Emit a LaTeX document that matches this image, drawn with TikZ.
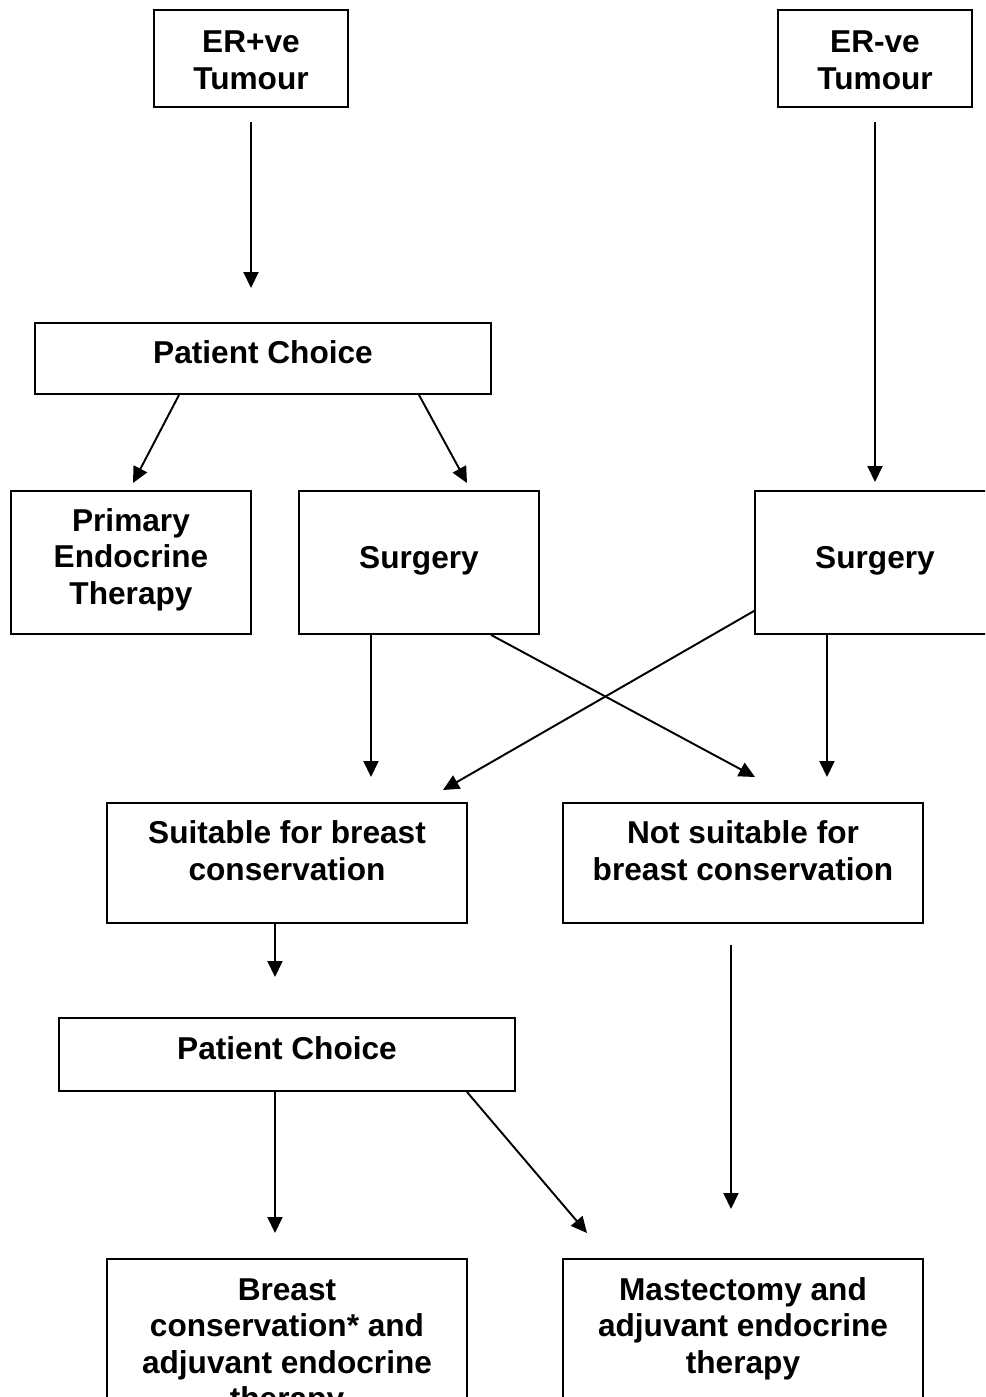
\documentclass[tikz,border=0pt]{standalone}
\usepackage{fontspec}
\setmainfont{Liberation Sans}
\usetikzlibrary{arrows.meta}

\begin{document}
\begin{tikzpicture}[x=0.02cm, y=-0.02cm, >={Triangle[length=0.32cm,width=0.3cm]},
  box/.style={draw, line width=1.1pt, inner sep=0pt, anchor=north, align=center,
    font=\fontsize{18}{20.8}\selectfont\bfseries},
  link/.style={->, line width=1.1pt}]
\useasboundingbox (0,0) rectangle (985,1397);
\clip (0,0) rectangle (985,1397);
\node[box, minimum width=3.88cm, text height=1.59cm, text depth=0.35cm] (erpos) at (251,9) {ER+ve\\Tumour};
\node[box, minimum width=3.88cm, text height=1.59cm, text depth=0.35cm] (erneg) at (875,9) {ER-ve\\Tumour};
\node[box, minimum width=9.12cm, text height=0.82cm, text depth=0.60cm] (choiceA) at (263,322) {Patient Choice};
\node[box, minimum width=4.8cm, text height=2.27cm, text depth=0.59cm] (primary) at (131,490) {Primary\\Endocrine\\Therapy};
\node[box, minimum width=4.8cm, text height=1.56cm, text depth=1.30cm] (surgA) at (419,490) {Surgery};
\node[box, minimum width=4.8cm, text height=1.56cm, text depth=1.30cm] (surgB) at (875,490) {Surgery};
\node[box, minimum width=7.2cm, text height=1.55cm, text depth=0.85cm] (suitable) at (287,802) {Suitable for breast\\conservation};
\node[box, minimum width=7.2cm, text height=1.55cm, text depth=0.85cm] (notsuit) at (743,802) {Not suitable for\\breast conservation};
\node[box, minimum width=9.12cm, text height=0.84cm, text depth=0.62cm] (choiceB) at (287,1017) {Patient Choice};
\node[box, minimum width=7.2cm, text height=3.02cm, text depth=0.18cm] (conserve) at (287,1258) {Breast\\conservation* and\\adjuvant endocrine\\therapy};
\node[box, minimum width=7.2cm, text height=2.29cm, text depth=0.91cm] (mastect) at (743,1258) {Mastectomy and\\adjuvant endocrine\\therapy};
% free ends of the connectors
\coordinate (erposOut) at (251,122);
\coordinate (erposTip) at (251,288);
\coordinate (ernegOut) at (875,122);
\coordinate (ernegTip) at (875,482);
\coordinate (primaryTip) at (133,483);
\coordinate (surgATip) at (467,483);
\coordinate (suitTipA) at (371,777);
\coordinate (suitTipB) at (443,790);
\coordinate (notTipA) at (755,777);
\coordinate (notTipB) at (827,777);
\coordinate (choiceBTip) at (275,977);
\coordinate (conserveTip) at (275,1233);
\coordinate (mastTipA) at (587,1233);
\coordinate (notOut) at (731,945);
\coordinate (mastTipB) at (731,1209);
\draw[link] (erposOut) -- (erposTip);
\draw[link] (ernegOut) -- (ernegTip);
\draw[link] ([xshift=-1.68cm]choiceA.south) -- (primaryTip);
\draw[link] ([xshift=3.12cm]choiceA.south) -- (surgATip);
\draw[link] ([xshift=-0.96cm]surgA.south) -- (suitTipA);
\draw[link] ([xshift=1.44cm]surgA.south) -- (notTipA);
\draw[link] ([yshift=-0.97cm]surgB.west) -- (suitTipB);
\draw[link] ([xshift=-0.96cm]surgB.south) -- (notTipB);
\draw[link] ([xshift=-0.24cm]suitable.south) -- (choiceBTip);
\draw[link] ([xshift=-0.24cm]choiceB.south) -- (conserveTip);
\draw[link] ([xshift=3.6cm]choiceB.south) -- (mastTipA);
\draw[link] (notOut) -- (mastTipB);
\end{tikzpicture}
\end{document}
